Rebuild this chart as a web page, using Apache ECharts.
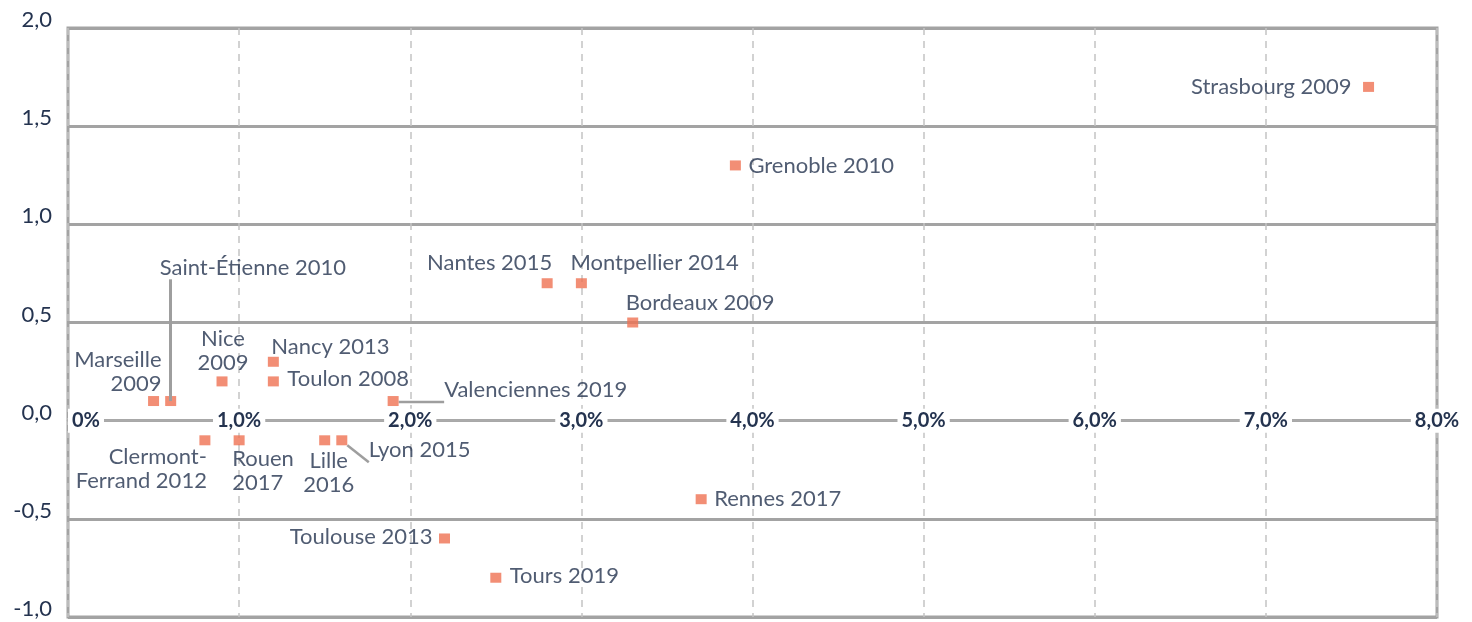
<!DOCTYPE html>
<html>
<head>
<meta charset="utf-8">
<script src="https://cdn.jsdelivr.net/npm/echarts@6/dist/echarts.min.js"></script>
<style>
  html, body { margin: 0; padding: 0; background: #fff; }
  #chart { width: 1472px; height: 622px; }
</style>
</head>
<body>
<div id="chart"></div>
<script>
// city / year labels
const cities = [
  "Strasbourg 2009", "Grenoble 2010", "Nantes 2015", "Montpellier 2014",
  "Bordeaux 2009", "Nancy 2013", "Toulon 2008", "Nice\n2009",
  "Marseille\n2009", "Saint-Étienne 2010", "Valenciennes 2019",
  "Clermont-\nFerrand 2012", "Rouen\n2017", "Lille\n2016", "Lyon 2015",
  "Toulouse 2013", "Rennes 2017", "Tours 2019"
];
// x values (%)
const xValues = [7.6, 3.9, 2.8, 3.0, 3.3, 1.2, 1.2, 0.9, 0.5, 0.6, 1.9, 0.8, 1.0, 1.5, 1.6, 2.2, 3.7, 2.5];
// y values
const yValues = [1.7, 1.3, 0.7, 0.7, 0.5, 0.3, 0.2, 0.2, 0.1, 0.1, 0.1, -0.1, -0.1, -0.1, -0.1, -0.6, -0.4, -0.8];

const xTicks = [0, 1, 2, 3, 4, 5, 6, 7, 8];
const yTicks = [-1, -0.5, 0, 0.5, 1, 1.5, 2];

// label placement: [align, dx, dy] relative to the marker centre
const labelPlace = {
  "Strasbourg 2009": ["right", -17, 0],
  "Grenoble 2010": ["left", 13, 0],
  "Nantes 2015": ["right", 5, -20],
  "Montpellier 2014": ["left", -11, -20],
  "Bordeaux 2009": ["left", -7, -20],
  "Nancy 2013": ["left", -2, -15],
  "Toulon 2008": ["left", 14, -2],
  "Nice\n2009": ["center", 1, -30],
  "Marseille\n2009": ["right", 8, -29],
  "Saint-Étienne 2010": ["left", -11, -133],
  "Valenciennes 2019": ["left", 51, -11],
  "Clermont-\nFerrand 2012": ["right", 2, 29],
  "Rouen\n2017": ["left", -7, 31],
  "Lille\n2016": ["center", 4, 33],
  "Lyon 2015": ["left", 27, 10],
  "Toulouse 2013": ["right", -12, -2],
  "Rennes 2017": ["left", 13, 0],
  "Tours 2019": ["left", 14, -2]
};
const withLeader = ["Valenciennes 2019", "Lyon 2015"];

const navy = "#24334f";
const fontFamily = "Lato";

const points = cities.map((c, i) => {
  const p = labelPlace[c];
  return {
    name: c,
    value: [xValues[i], yValues[i]],
    label: { align: p[0], offset: [p[1], p[2]] },
    labelLine: { show: withLeader.indexOf(c) >= 0 }
  };
});

const stIdx = cities.indexOf("Saint-Étienne 2010");

// x axis sits on the y = 0 line
const gridTop = 28, gridBottom = 5, chartHeight = 622;
const yMin = yTicks[0], yMax = yTicks[yTicks.length - 1];
const zeroOffset = -(chartHeight - gridTop - gridBottom) * (0 - yMin) / (yMax - yMin);

const chart = echarts.init(document.getElementById("chart"));
chart.setOption({
  backgroundColor: "#fff",
  animation: false,
  grid: {
    left: 68, right: 35, top: gridTop, bottom: gridBottom,
    show: true, borderColor: "#a3a3a3", borderWidth: 3
  },
  xAxis: {
    type: "value",
    min: xTicks[0], max: xTicks[xTicks.length - 1], interval: 1,
    offset: zeroOffset,
    axisLine: { onZero: false, lineStyle: { color: "#ababab", width: 2.5 } },
    axisTick: { show: false },
    splitLine: { show: true, lineStyle: { color: "#c4c4c4", width: 1.5, type: [7, 6] } },
    axisLabel: {
      margin: 0,
      verticalAlign: "middle",
      alignMinLabel: "left",
      backgroundColor: "#fff",
      padding: [2, 4, 2, 4],
      color: navy,
      fontFamily: fontFamily,
      fontWeight: "bold",
      fontSize: 20,
      formatter: v => v === 0 ? "0%" : v.toFixed(1).replace(".", ",") + "%"
    }
  },
  yAxis: {
    type: "value",
    min: yMin, max: yMax, interval: 0.5,
    axisLine: { show: false },
    axisTick: { show: false },
    splitLine: { show: true, lineStyle: { color: "#a3a3a3", width: 3 } },
    axisLabel: {
      margin: 16,
      verticalAlign: "bottom",
      lineHeight: 16,
      color: navy,
      fontFamily: fontFamily,
      fontSize: 22,
      formatter: v => v.toFixed(1).replace(".", ",")
    }
  },
  series: [{
    type: "scatter",
    symbol: "rect",
    symbolSize: [11, 10],
    itemStyle: { color: "#ef7253" },
    data: points,
    label: {
      show: true,
      position: "inside",
      formatter: p => p.name,
      color: navy,
      fontFamily: fontFamily,
      fontSize: 22,
      lineHeight: 24
    },
    labelLine: { lineStyle: { color: "#9e9e9e", width: 2.5 } },
    markLine: {
      silent: true,
      symbol: "none",
      label: { show: false },
      lineStyle: { color: "#9e9e9e", width: 3, type: "solid" },
      data: [[
        { coord: [xValues[stIdx], yValues[stIdx]] },
        { coord: [xValues[stIdx], 0.72] }
      ]]
    }
  }]
});
</script>
</body>
</html>
